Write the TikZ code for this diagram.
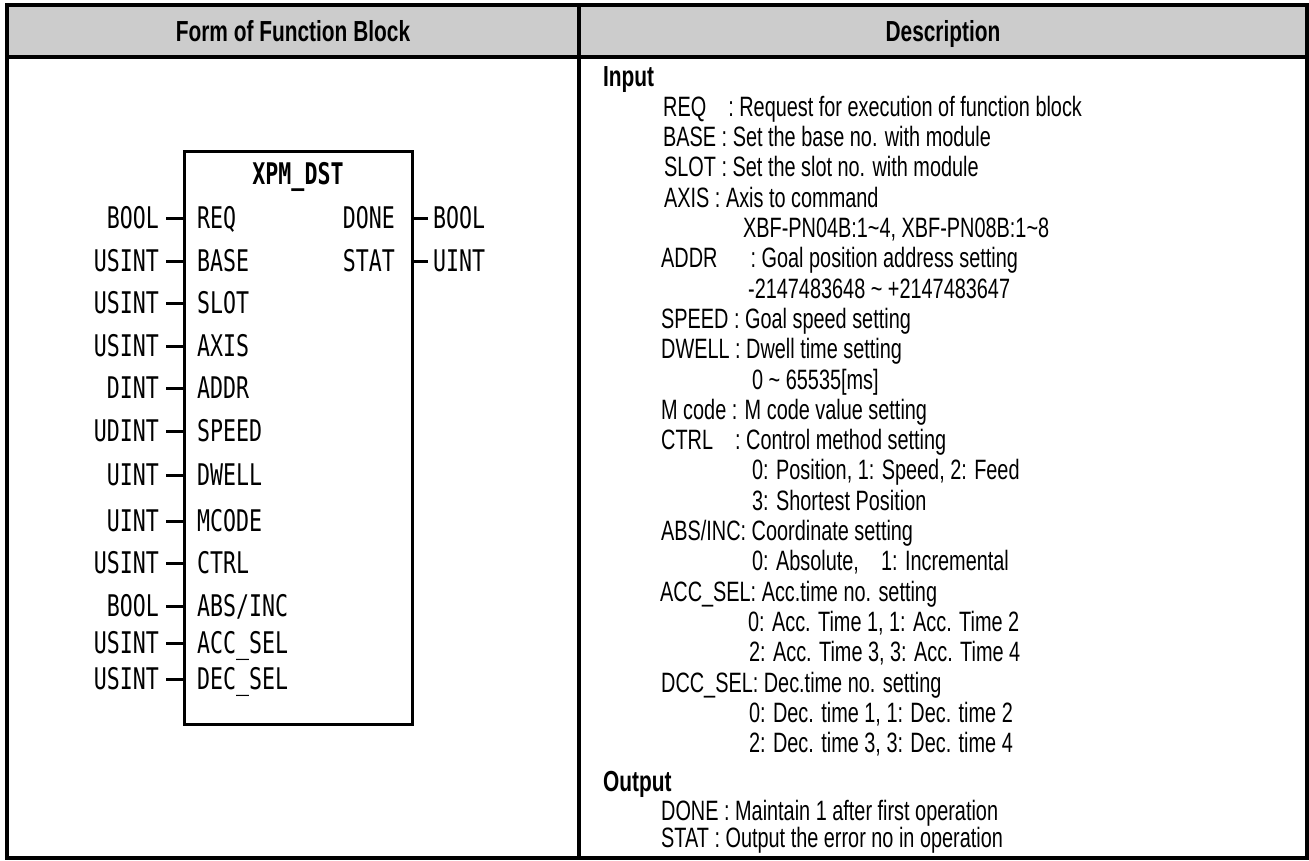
\documentclass[tikz,border=0pt]{standalone}
\usepackage{fontspec}
\setmainfont{Liberation Sans}
\newfontfamily\fbfont{DejaVu Sans Mono}
\definecolor{headgray}{RGB}{204,204,204}
\begin{document}
\begin{tikzpicture}[x=1pt,y=-1pt,
  desc/.style={anchor=base west, inner sep=0pt, xscale=0.71, font=\fontsize{28}{30}\selectfont},
  deschead/.style={anchor=base west, inner sep=0pt, xscale=0.72, font=\fontsize{29}{30}\selectfont\bfseries},
  colhead/.style={anchor=base, inner sep=0pt, xscale=0.72, font=\fontsize{29}{30}\selectfont\bfseries},
  fbtxt/.style={inner sep=0pt, xscale=0.725, font=\fbfont\fontsize{29.8}{32}\selectfont, text height=21.7pt, text depth=0pt},
  fbtitle/.style={fbtxt, font=\fbfont\fontsize{29.8}{32}\selectfont\bfseries},
  pin/.style={line width=3pt},
  fbbox/.style={draw, line width=3pt, inner sep=0pt, minimum width=228pt, minimum height=573pt}]
\useasboundingbox (0,0) rectangle (1309,860);
% table
\fill[headgray] (7,5) rectangle (1307,57);
\draw[line width=4pt] (7,57) -- (1307,57);
\draw[line width=3.5pt] (579,5) -- (579,858);
\draw[line width=4pt] (7,5) rectangle (1307,858);
\node[colhead] (h1) at (293,41) {Form of Function Block};
\node[colhead] (h2) at (943,41) {Description};
% function block
\node[fbbox] (fb) at (298,437.7) {};
\node[fbtitle] (title) at (298,174) {XPM\_DST};
% input pins
\node[fbtxt, anchor=west] (p1) at (197,218) {REQ};
\node[fbtxt, anchor=west] (p2) at (197,261) {BASE};
\node[fbtxt, anchor=west] (p3) at (197,303) {SLOT};
\node[fbtxt, anchor=west] (p4) at (197,346) {AXIS};
\node[fbtxt, anchor=west] (p5) at (197,388) {ADDR};
\node[fbtxt, anchor=west] (p6) at (197,431) {SPEED};
\node[fbtxt, anchor=west] (p7) at (197,475) {DWELL};
\node[fbtxt, anchor=west] (p8) at (197,521) {MCODE};
\node[fbtxt, anchor=west] (p9) at (197,563) {CTRL};
\node[fbtxt, anchor=west] (p10) at (197,606) {ABS/INC};
\node[fbtxt, anchor=west] (p11) at (197,643) {ACC\_SEL};
\node[fbtxt, anchor=west] (p12) at (197,679) {DEC\_SEL};
% input types
\node[fbtxt, anchor=east] (t1) at (159,218) {BOOL};
\node[fbtxt, anchor=east] (t2) at (159,261) {USINT};
\node[fbtxt, anchor=east] (t3) at (159,303) {USINT};
\node[fbtxt, anchor=east] (t4) at (159,346) {USINT};
\node[fbtxt, anchor=east] (t5) at (159,388) {DINT};
\node[fbtxt, anchor=east] (t6) at (159,431) {UDINT};
\node[fbtxt, anchor=east] (t7) at (159,475) {UINT};
\node[fbtxt, anchor=east] (t8) at (159,521) {UINT};
\node[fbtxt, anchor=east] (t9) at (159,563) {USINT};
\node[fbtxt, anchor=east] (t10) at (159,606) {BOOL};
\node[fbtxt, anchor=east] (t11) at (159,643) {USINT};
\node[fbtxt, anchor=east] (t12) at (159,679) {USINT};
\foreach \i in {1,...,12}{
  \draw[pin] ([xshift=7pt]t\i.east) -- (t\i.east -| fb.west);
}
% outputs
\node[fbtxt, anchor=east] (o1) at (395,218) {DONE};
\node[fbtxt, anchor=east] (o2) at (395,261) {STAT};
\node[fbtxt, anchor=west] (u1) at (433,218) {BOOL};
\node[fbtxt, anchor=west] (u2) at (433,261) {UINT};
\foreach \i in {1,2}{
  \draw[pin] (u\i.west -| fb.east) -- ([xshift=-5pt]u\i.west);
}
% description
\node[deschead] (d0) at (603,86) {Input};
\node[desc] (d1) at (663,116.3) {REQ\ \ \ \ : Request for execution of function block};
\node[desc] (d2) at (663,146.6) {BASE : Set the base no. with module};
\node[desc] (d3) at (664,176.9) {SLOT : Set the slot no. with module};
\node[desc] (d4) at (664,207.2) {AXIS : Axis to command};
\node[desc] (d5) at (743,237.5) {XBF-PN04B:1\textasciitilde4, XBF-PN08B:1\textasciitilde8};
\node[desc] (d6) at (661,267.8) {ADDR\ \ \ \ \ \ : Goal position address setting};
\node[desc] (d7) at (748,298.1) {-2147483648 \textasciitilde{} +2147483647};
\node[desc] (d8) at (661,328.4) {SPEED : Goal speed setting};
\node[desc] (d9) at (661,358.7) {DWELL : Dwell time setting};
\node[desc] (d10) at (752,389.0) {0 \textasciitilde{} 65535[ms]};
\node[desc] (d11) at (661,419.3) {M code : M code value setting};
\node[desc] (d12) at (661,449.6) {CTRL\ \ \ \ : Control method setting};
\node[desc] (d13) at (752,479.9) {0: Position, 1: Speed, 2: Feed};
\node[desc] (d14) at (752,510.2) {3: Shortest Position};
\node[desc] (d15) at (661,540.5) {ABS/INC: Coordinate setting};
\node[desc] (d16) at (752,570.8) {0: Absolute,\ \ \ \ 1: Incremental};
\node[desc] (d17) at (660,601.1) {ACC\_SEL: Acc.time no. setting};
\node[desc] (d18) at (748,631.4) {0: Acc. Time 1, 1: Acc. Time 2};
\node[desc] (d19) at (749,661.7) {2: Acc. Time 3, 3: Acc. Time 4};
\node[desc] (d20) at (661,692.0) {DCC\_SEL: Dec.time no. setting};
\node[desc] (d21) at (749,722.3) {0: Dec. time 1, 1: Dec. time 2};
\node[desc] (d22) at (749,752.6) {2: Dec. time 3, 3: Dec. time 4};
\node[deschead] (d23) at (603,791) {Output};
\node[desc] (d24) at (661,820) {DONE : Maintain 1 after first operation};
\node[desc] (d25) at (661,847) {STAT : Output the error no in operation};
\end{tikzpicture}
\end{document}
